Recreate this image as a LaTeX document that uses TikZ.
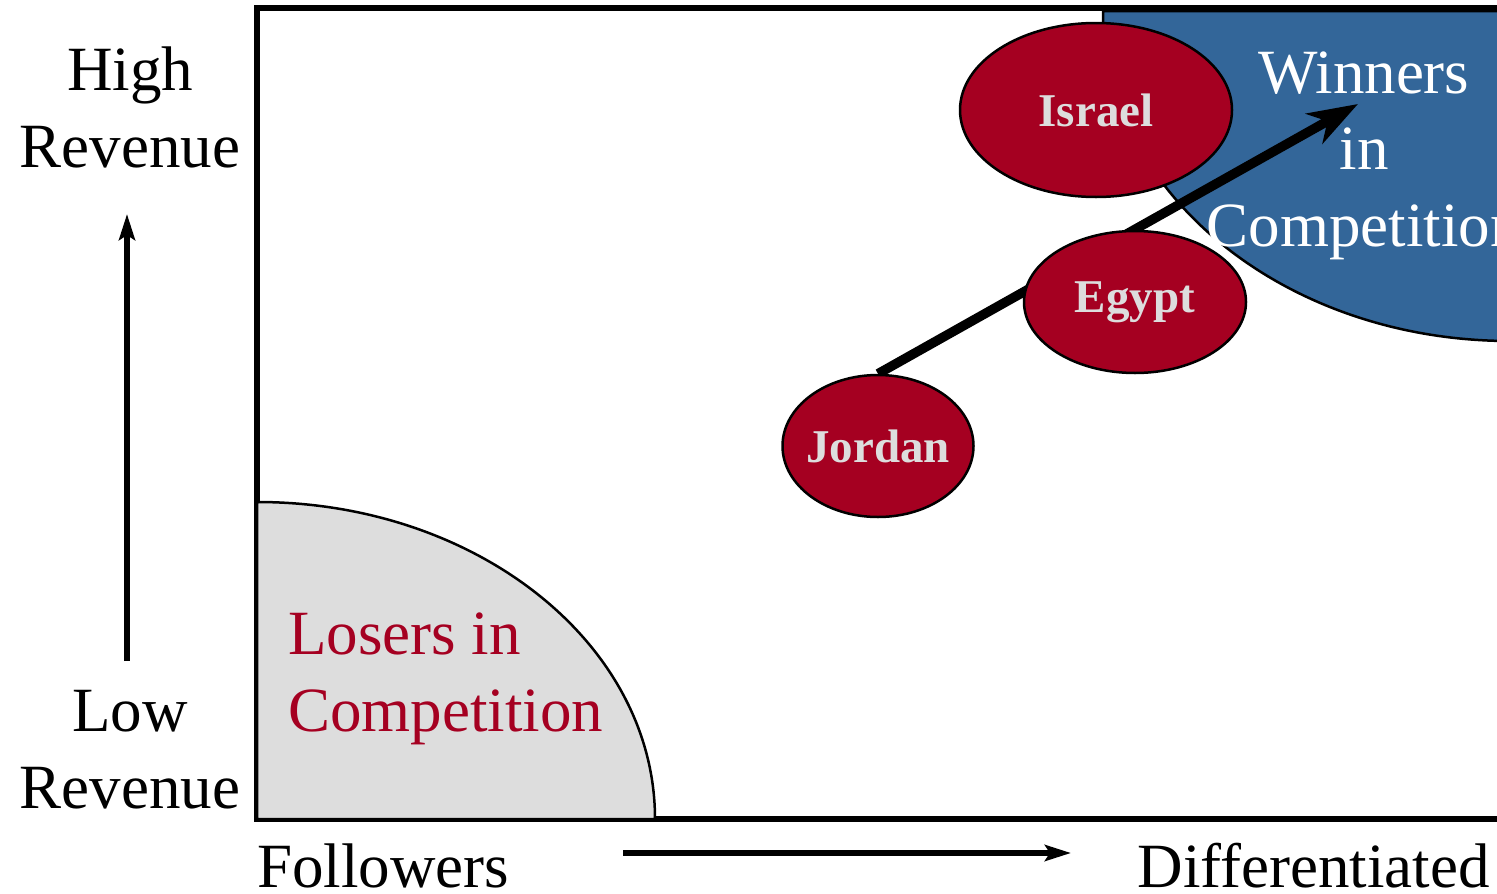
\documentclass[tikz,border=0pt]{standalone}
\usepackage{fontspec}
\setmainfont{Liberation Serif}
\usetikzlibrary{shapes.geometric,arrows.meta}
\definecolor{nationred}{HTML}{A50021}
\definecolor{winblue}{HTML}{336699}
\definecolor{losegray}{HTML}{DDDDDD}
\definecolor{labelgray}{HTML}{DDDDDD}
\pgfdeclarelayer{regions}
\pgfdeclarelayer{links}
\pgfsetlayers{regions,links,main}
% zero-width label so that the ellipse keeps its given size
\newcommand{\natname}[1]{\makebox[0pt][c]{#1}}
\tikzset{
  bigtext/.style={font=\fontsize{63}{76.5}\selectfont, inner sep=0pt, anchor=base},
  nation/.style={ellipse, draw=black, line width=2.5pt, fill=nationred,
    text=labelgray, inner sep=0pt, font=\fontsize{47}{50}\selectfont\bfseries},
  region/.style={draw=black, line width=2.5pt},
  axisline/.style={line width=5.5pt, -{Stealth[length=26pt,width=16pt,inset=5pt]}},
}
\begin{document}
\begin{tikzpicture}[x=1pt,y=-1pt]
  \clip (0,0) rectangle (1497,894);

  % strategy regions and the frame
  \begin{pgfonlayer}{regions}
    \fill[white] (0,0) rectangle (1497,894);
    \path[region, fill=winblue] (1103,11)
      arc[start angle=180, end angle=270, x radius=407pt, y radius=330pt]
      -- (1530,341) -- (1530,11) -- cycle;
    \draw[line width=5.5pt] (1530,8) -- (257,8) -- (257,819) -- (1530,819);
    \path[region, fill=losegray] (257,502)
      arc[start angle=90, end angle=0, x radius=398pt, y radius=317pt]
      -- (257,819) -- cycle;
  \end{pgfonlayer}

  % countries
  \node[nation, minimum width=272pt, minimum height=174pt] (israel) at (1096,110) {\natname{Israel}};
  \node[nation, minimum width=222pt, minimum height=142pt] (egypt) at (1135,302) {\natname{Egypt}};
  \node[nation, minimum width=191pt, minimum height=142pt] (jordan) at (878,446) {\natname{Jordan}};
  \coordinate (goal) at (1358,104);

  % development path
  \begin{pgfonlayer}{links}
    \draw[line width=9.5pt, -{Stealth[length=50pt,width=34pt,inset=15pt]}]
      (jordan.north) -- (goal);
  \end{pgfonlayer}

  % region labels (a multi-line node sits on the baseline of its last line)
  \node[bigtext, align=left, text=nationred, anchor=base west] (losers) at (288,731)
    {Losers in\\Competition};
  \node[bigtext, align=center, text=white] (winners) at (1364,246)
    {Winners\\in\\Competition};

  % axes
  \node[bigtext, align=center] (high) at (130,167) {High\\Revenue};
  \node[bigtext, align=center] (low) at (130,808) {Low\\Revenue};
  \coordinate (vstart) at (127,661);
  \coordinate (vend) at (127,214);
  \draw[axisline] (vstart) -- (vend);

  \node[bigtext, anchor=base west] (followers) at (257,887) {Followers};
  \node[bigtext, anchor=base east] (differentiated) at (1490,887) {Differentiated};
  \coordinate (hstart) at (623,853);
  \coordinate (hend) at (1071,853);
  \draw[axisline] (hstart) -- (hend);
\end{tikzpicture}
\end{document}
